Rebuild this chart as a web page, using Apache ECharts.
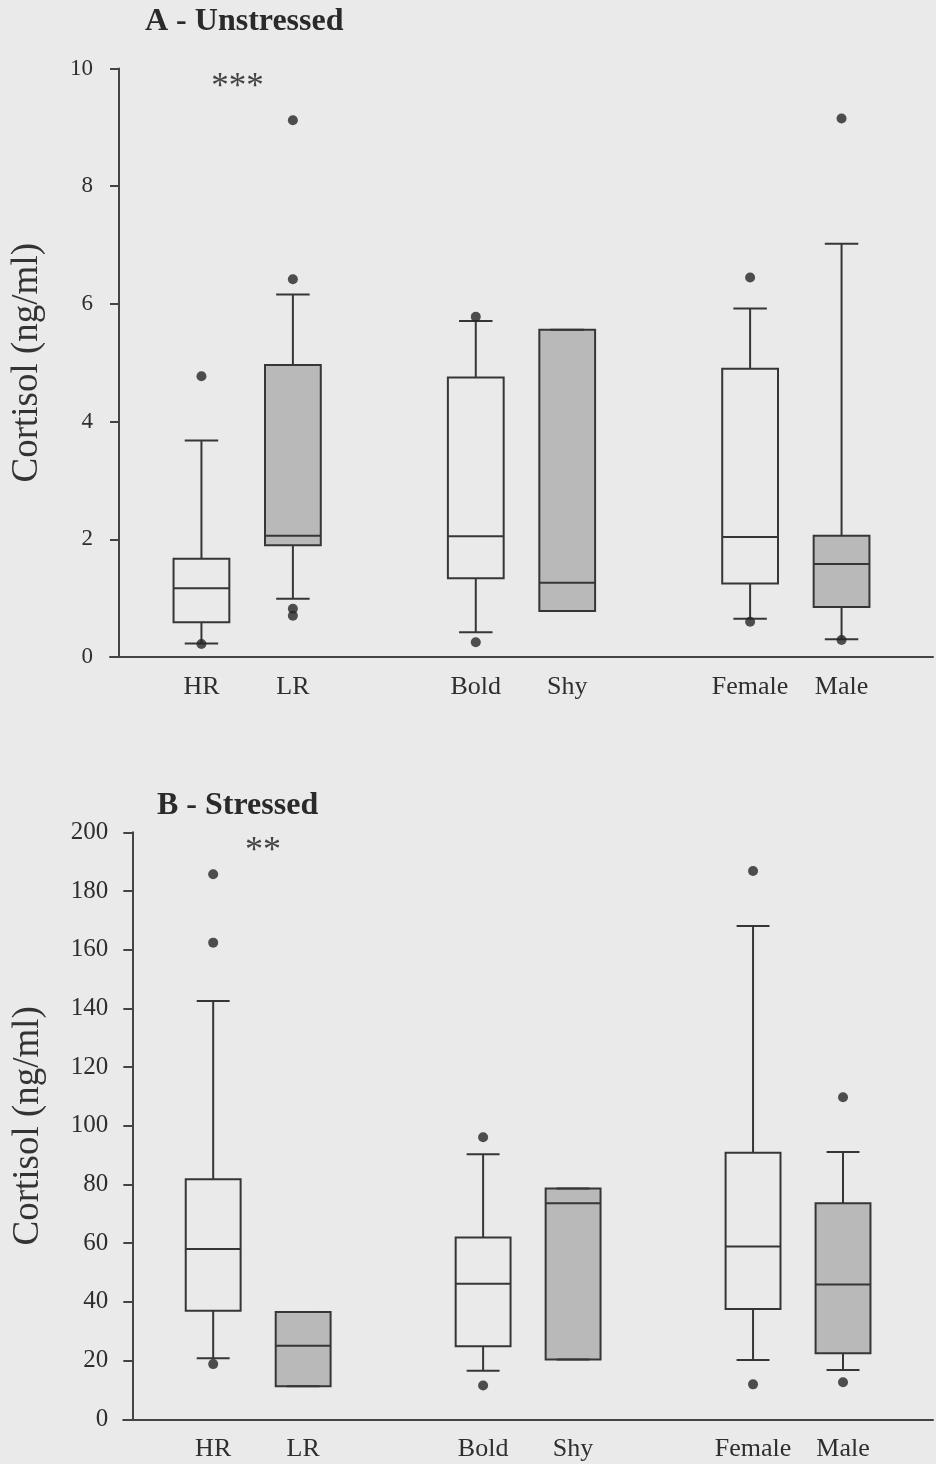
<!DOCTYPE html>
<html>
<head>
<meta charset="utf-8">
<script src="https://cdn.jsdelivr.net/npm/echarts@6/dist/echarts.min.js"></script>
<style>
  html, body { margin: 0; padding: 0; background: #eaeaea; }
  #chart { width: 936px; height: 1464px; }
</style>
</head>
<body>
<div id="chart"></div>
<script>
// Category slots along each x axis; blank slots separate the three comparisons.
const categories = ['', 'HR', 'LR', '', 'Bold', 'Shy', '', 'Female', 'Male', ''];
const groups = ['HR', 'LR', 'Bold', 'Shy', 'Female', 'Male'];

// Panel A: unstressed cortisol (ng/ml), per group [min, Q1, median, Q3, max]
const unstressedBoxes = [
  [0.23, 0.59, 1.17, 1.67, 3.68],
  [0.99, 1.90, 2.06, 4.96, 6.16],
  [0.42, 1.34, 2.05, 4.75, 5.71],
  [0.78, 0.78, 1.26, 5.56, 5.56],
  [0.65, 1.25, 2.04, 4.90, 5.92],
  [0.30, 0.85, 1.58, 2.06, 7.02]
];
const unstressedOutliers = [
  ['HR', 4.77], ['HR', 0.22],
  ['LR', 9.12], ['LR', 6.42], ['LR', 0.82], ['LR', 0.70],
  ['Bold', 5.78], ['Bold', 0.25],
  ['Female', 6.45], ['Female', 0.60],
  ['Male', 9.15], ['Male', 0.29]
];

// Panel B: stressed cortisol (ng/ml), per group [min, Q1, median, Q3, max]
const stressedBoxes = [
  [20.8, 37.0, 58.0, 81.8, 142.5],
  [11.3, 11.3, 25.1, 36.6, 36.6],
  [16.5, 24.9, 46.2, 61.9, 90.3],
  [20.4, 20.4, 73.6, 78.6, 78.6],
  [20.2, 37.6, 58.9, 90.8, 168.1],
  [16.8, 22.5, 45.9, 73.6, 91.1]
];
const stressedOutliers = [
  ['HR', 185.7], ['HR', 162.4], ['HR', 18.8],
  ['Bold', 96.1], ['Bold', 11.5],
  ['Female', 186.8], ['Female', 11.9],
  ['Male', 109.7], ['Male', 12.6]
];

const yTicksA = { min: 0, max: 10, interval: 2 };
const yTicksB = { min: 0, max: 200, interval: 20 };

const FONT = 'Liberation Serif';
const INK = '#363636';
const GRAY_FILL = '#b9b9b9';
const BG = '#eaeaea';

function boxRows(boxes) {
  return boxes.map((b, i) => [categories.indexOf(groups[i])].concat(b));
}

// Draws one box: whiskers, box body, median line and whisker caps.
function renderBox(params, api) {
  const x = api.value(0);
  const lo = api.coord([x, api.value(1)]);
  const q1 = api.coord([x, api.value(2)]);
  const med = api.coord([x, api.value(3)]);
  const q3 = api.coord([x, api.value(4)]);
  const hi = api.coord([x, api.value(5)]);
  const band = api.size([1, 0])[0];
  const bw = band * 0.61;
  const cw = bw * 0.6;
  const cx = q1[0];
  const filled = params.dataIndex % 2 === 1;
  const line = { stroke: INK, lineWidth: 2 };
  return {
    type: 'group',
    children: [
      { type: 'line', shape: { x1: cx, y1: hi[1], x2: cx, y2: q3[1] }, style: line },
      { type: 'line', shape: { x1: cx, y1: q1[1], x2: cx, y2: lo[1] }, style: line },
      { type: 'rect', shape: { x: cx - bw / 2, y: q3[1], width: bw, height: q1[1] - q3[1] },
        style: { fill: filled ? GRAY_FILL : BG, stroke: INK, lineWidth: 2 } },
      { type: 'line', shape: { x1: cx - bw / 2, y1: med[1], x2: cx + bw / 2, y2: med[1] }, style: line },
      { type: 'line', shape: { x1: cx - cw / 2, y1: hi[1], x2: cx + cw / 2, y2: hi[1] }, style: line },
      { type: 'line', shape: { x1: cx - cw / 2, y1: lo[1], x2: cx + cw / 2, y2: lo[1] }, style: line }
    ]
  };
}

function xAxisFor(gridIndex, margin) {
  return {
    type: 'category', gridIndex, data: categories, boundaryGap: false,
    axisLine: { lineStyle: { color: '#444', width: 2 } },
    axisTick: { show: false },
    axisLabel: { interval: 0, margin, color: '#2e2e2e', fontFamily: FONT, fontSize: 26 },
    splitLine: { show: false }
  };
}

function yAxisFor(gridIndex, ticks, offset, nameGap, labelMargin, labelSize) {
  return {
    type: 'value', gridIndex, min: ticks.min, max: ticks.max, interval: ticks.interval,
    offset,
    name: 'Cortisol (ng/ml)', nameLocation: 'middle', nameGap, nameRotate: 90,
    nameTextStyle: { fontFamily: FONT, fontSize: 37, color: '#333' },
    axisLine: { show: true, onZero: false, lineStyle: { color: '#444', width: 2 } },
    axisTick: { show: true, inside: false, length: 9, lineStyle: { color: '#444', width: 2 } },
    axisLabel: { margin: labelMargin, color: '#2e2e2e', fontFamily: FONT, fontSize: labelSize },
    splitLine: { show: false }
  };
}

function outlierSeries(idx, data) {
  return {
    type: 'scatter', xAxisIndex: idx, yAxisIndex: idx, data,
    symbol: 'circle', symbolSize: 10, z: 5,
    itemStyle: { color: '#262626' }
  };
}

const chart = echarts.init(document.getElementById('chart'), null, { renderer: 'canvas' });

chart.setOption({
  backgroundColor: BG,
  animation: false,
  grid: [
    { left: 110, right: -15.5, top: 68.5, height: 588.5 },
    { left: 123.2, right: -20.2, top: 832.3, height: 587 }
  ],
  xAxis: [xAxisFor(0, 17), xAxisFor(1, 17)],
  yAxis: [
    yAxisFor(0, yTicksA, -9, 73, 26, 23),
    yAxisFor(1, yTicksB, -9.1, 86, 24, 25)
  ],
  series: [
    { type: 'custom', xAxisIndex: 0, yAxisIndex: 0, renderItem: renderBox,
      encode: { x: 0, y: [1, 2, 3, 4, 5] }, data: boxRows(unstressedBoxes), z: 3 },
    outlierSeries(0, unstressedOutliers),
    { type: 'custom', xAxisIndex: 1, yAxisIndex: 1, renderItem: renderBox,
      encode: { x: 0, y: [1, 2, 3, 4, 5] }, data: boxRows(stressedBoxes), z: 3 },
    outlierSeries(1, stressedOutliers)
  ],
  graphic: [
    { type: 'text', x: 145, y: 22, style: { text: 'A - Unstressed', fontFamily: FONT, fontSize: 32,
      fontWeight: 'bold', fill: '#2a2a2a', align: 'left', verticalAlign: 'middle' } },
    { type: 'text', x: 157, y: 806, style: { text: 'B - Stressed', fontFamily: FONT, fontSize: 32,
      fontWeight: 'bold', fill: '#2a2a2a', align: 'left', verticalAlign: 'middle' } },
    { type: 'text', x: 237.5, y: 88, style: { text: '***', fontFamily: FONT, fontSize: 35,
      fill: '#444', align: 'center', verticalAlign: 'middle' } },
    { type: 'text', x: 263, y: 852, style: { text: '**', fontFamily: FONT, fontSize: 36,
      fill: '#444', align: 'center', verticalAlign: 'middle' } }
  ]
});
</script>
</body>
</html>
